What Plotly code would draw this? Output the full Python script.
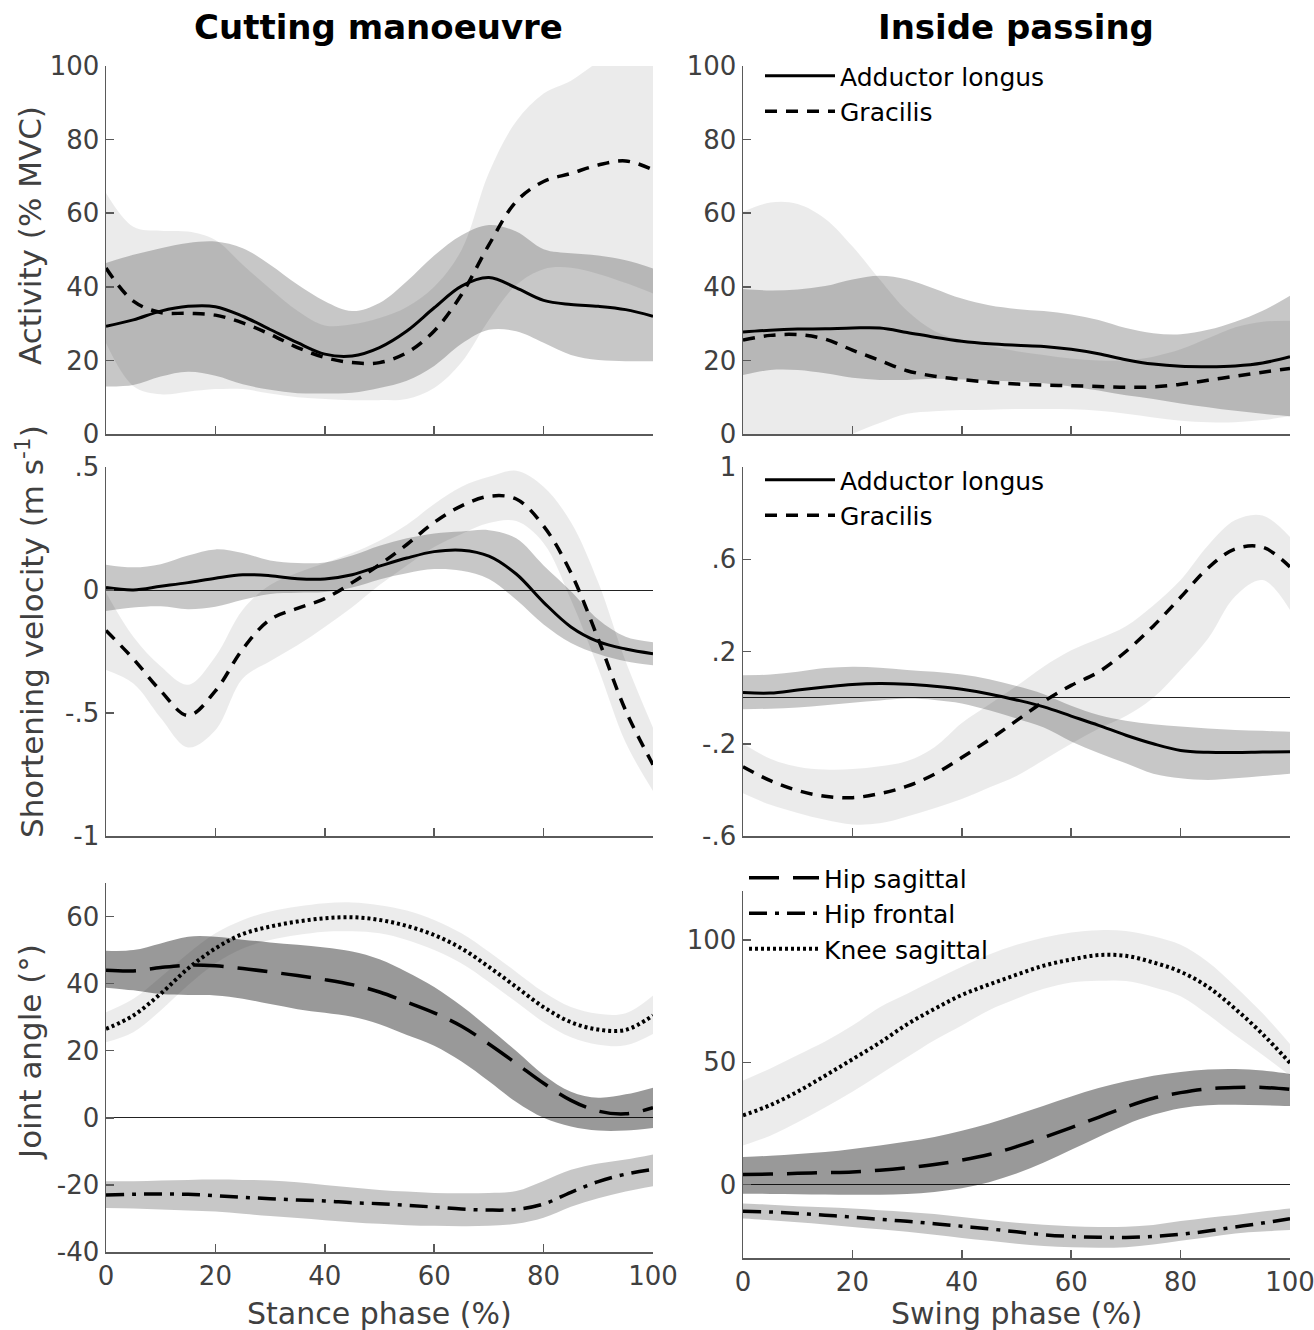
import plotly.graph_objects as go

# ---------------- data ----------------
phase = [0, 5, 10, 15, 20, 25, 30, 35, 40, 45, 50, 55, 60, 65, 70, 75, 80, 85, 90, 95, 100]

# Row 1 – activity (% MVC), cutting manoeuvre
cut_act_al_mean = [29.3, 31.0, 33.4, 34.7, 34.6, 32.0, 28.4, 24.8, 21.7, 21.2, 23.5, 28.0, 34.3, 40.2, 42.5, 39.7, 36.3, 35.2, 34.7, 33.8, 32.0]
cut_act_al_up   = [46.5, 48.7, 50.5, 51.9, 52.3, 50.5, 46.0, 40.6, 36.1, 33.4, 35.6, 41.5, 48.5, 54.0, 56.8, 55.0, 50.2, 49.1, 48.5, 47.2, 45.0]
cut_act_al_lo   = [12.9, 13.3, 15.6, 16.9, 15.8, 13.5, 12.0, 11.1, 11.0, 11.2, 12.5, 14.5, 18.5, 24.5, 28.3, 27.9, 24.8, 21.5, 20.1, 19.8, 19.8]
cut_act_gr_mean = [45.1, 36.1, 33.0, 32.8, 32.3, 30.2, 27.1, 23.5, 20.8, 19.4, 19.4, 22.1, 28.0, 37.9, 51.4, 63.2, 68.6, 70.8, 73.1, 74.2, 71.8]
cut_act_gr_up   = [65.5, 56.3, 55.2, 55.0, 52.7, 46.0, 39.5, 33.5, 29.5, 29.8, 31.5, 34.5, 40.0, 50.0, 71.0, 85.0, 92.5, 96.0, 101.0, 104.0, 105.0]
cut_act_gr_lo   = [24.7, 13.0, 10.8, 11.5, 12.2, 12.2, 11.0, 10.0, 9.5, 9.2, 9.2, 9.5, 12.5, 19.5, 31.0, 40.5, 44.8, 45.2, 43.5, 41.0, 38.2]

# Row 1 – activity (% MVC), inside passing
pas_act_al_mean = [27.7, 28.2, 28.5, 28.6, 28.8, 28.8, 27.6, 26.3, 25.2, 24.5, 24.1, 23.8, 23.0, 21.8, 20.2, 19.0, 18.4, 18.3, 18.5, 19.3, 21.0]
pas_act_al_up   = [39.4, 39.0, 39.3, 40.2, 42.0, 43.0, 42.0, 39.5, 36.8, 35.0, 34.0, 33.4, 32.5, 31.0, 28.8, 27.4, 27.1, 28.3, 30.5, 33.5, 37.6]
pas_act_al_lo   = [16.0, 17.4, 17.4, 16.5, 15.3, 14.7, 14.7, 15.0, 14.8, 14.5, 14.3, 13.8, 12.9, 11.8, 10.5, 9.5, 8.3, 7.3, 6.3, 5.5, 4.8]
pas_act_gr_mean = [25.5, 26.8, 27.0, 25.8, 22.8, 20.0, 17.2, 15.7, 14.8, 14.1, 13.6, 13.3, 13.1, 12.9, 12.7, 12.8, 13.5, 14.6, 15.7, 16.8, 17.8]
pas_act_gr_up   = [60.4, 62.9, 62.5, 58.5, 51.0, 42.0, 33.5, 28.0, 25.5, 24.0, 22.5, 21.5, 20.5, 20.0, 20.0, 21.0, 23.0, 26.0, 29.0, 30.5, 30.8]
pas_act_gr_lo   = [-9.5, -9.0, -7.0, -4.0, 0.0, 3.0, 5.5, 6.2, 6.5, 6.6, 6.8, 6.8, 6.7, 6.3, 5.5, 4.5, 3.6, 3.2, 3.2, 3.8, 4.8]

# Row 2 – shortening velocity (m/s), cutting manoeuvre
cut_vel_al_mean = [0.01, 0.0, 0.015, 0.03, 0.048, 0.062, 0.058, 0.046, 0.045, 0.062, 0.097, 0.13, 0.156, 0.162, 0.138, 0.065, -0.05, -0.15, -0.21, -0.24, -0.259]
cut_vel_al_up   = [0.103, 0.092, 0.105, 0.14, 0.165, 0.15, 0.12, 0.11, 0.112, 0.14, 0.18, 0.21, 0.23, 0.238, 0.243, 0.21, 0.1, -0.005, -0.12, -0.19, -0.212]
cut_vel_al_lo   = [-0.085, -0.071, -0.066, -0.078, -0.068, -0.04, -0.016, -0.011, -0.008, 0.01, 0.043, 0.068, 0.085, 0.078, 0.045, -0.04, -0.14, -0.215, -0.26, -0.29, -0.306]
cut_vel_gr_mean = [-0.165, -0.28, -0.41, -0.51, -0.41, -0.24, -0.12, -0.075, -0.035, 0.03, 0.103, 0.185, 0.275, 0.342, 0.381, 0.37, 0.26, 0.07, -0.2, -0.49, -0.71]
cut_vel_gr_up   = [-0.01, -0.19, -0.31, -0.385, -0.27, -0.08, 0.02, 0.07, 0.11, 0.15, 0.2, 0.265, 0.35, 0.42, 0.46, 0.485, 0.42, 0.275, 0.03, -0.29, -0.56]
cut_vel_gr_lo   = [-0.325, -0.38, -0.52, -0.64, -0.57, -0.36, -0.29, -0.225, -0.15, -0.07, 0.02, 0.1, 0.175, 0.228, 0.272, 0.28, 0.19, -0.04, -0.32, -0.62, -0.817]

# Row 2 – shortening velocity (m/s), inside passing
pas_vel_al_mean = [0.022, 0.02, 0.033, 0.046, 0.057, 0.061, 0.058, 0.049, 0.036, 0.016, -0.01, -0.04, -0.08, -0.12, -0.163, -0.2, -0.229, -0.237, -0.238, -0.236, -0.235]
pas_vel_al_up   = [0.097, 0.1, 0.112, 0.128, 0.134, 0.13, 0.12, 0.112, 0.1, 0.08, 0.05, 0.015, -0.035, -0.075, -0.1, -0.115, -0.125, -0.134, -0.14, -0.144, -0.148]
pas_vel_al_lo   = [-0.05, -0.048, -0.043, -0.033, -0.022, -0.012, -0.004, -0.01, -0.025, -0.055, -0.09, -0.13, -0.19, -0.24, -0.285, -0.33, -0.35, -0.357, -0.35, -0.34, -0.33]
pas_vel_gr_mean = [-0.3, -0.36, -0.403, -0.428, -0.434, -0.416, -0.384, -0.332, -0.26, -0.183, -0.1, -0.017, 0.053, 0.111, 0.2, 0.31, 0.435, 0.562, 0.645, 0.652, 0.567]
pas_vel_gr_up   = [-0.199, -0.265, -0.3, -0.312, -0.31, -0.298, -0.275, -0.215, -0.11, -0.03, 0.05, 0.135, 0.205, 0.255, 0.31, 0.4, 0.51, 0.66, 0.77, 0.79, 0.697]
pas_vel_gr_lo   = [-0.415, -0.465, -0.5, -0.53, -0.55, -0.545, -0.515, -0.48, -0.44, -0.39, -0.34, -0.27, -0.2, -0.135, -0.08, 0.0, 0.12, 0.255, 0.44, 0.51, 0.38]

# Row 3 – joint angles (deg), cutting manoeuvre
cut_hs_mean = [44.0, 43.8, 44.8, 45.5, 45.3, 44.5, 43.5, 42.4, 41.2, 39.7, 37.5, 34.5, 31.3, 27.3, 22.0, 16.2, 10.3, 5.2, 2.0, 1.2, 3.0]
cut_hs_up   = [49.8, 50.0, 52.0, 54.0, 54.0, 53.1, 52.3, 51.6, 50.8, 49.6, 47.3, 43.5, 39.0, 33.3, 26.8, 19.9, 12.8, 7.8, 6.0, 7.0, 9.0]
cut_hs_lo   = [38.8, 38.0, 36.9, 36.6, 36.5, 35.5, 33.9, 32.4, 31.3, 30.1, 27.9, 24.7, 21.5, 16.8, 10.9, 4.7, 0.0, -2.6, -3.8, -3.8, -3.0]
cut_hf_mean = [-23.0, -22.8, -22.7, -22.8, -23.2, -23.7, -24.1, -24.5, -24.8, -25.3, -25.6, -26.1, -26.6, -27.2, -27.5, -27.3, -25.7, -22.2, -19.0, -16.8, -15.4]
cut_hf_up   = [-18.9, -18.9, -18.7, -18.5, -18.4, -18.5, -18.7, -19.2, -20.0, -20.8, -21.5, -22.0, -22.4, -22.5, -22.4, -21.8, -18.8, -15.5, -13.6, -12.4, -10.9]
cut_hf_lo   = [-26.9, -27.0, -27.3, -27.6, -27.9, -28.6, -29.3, -29.9, -30.5, -31.1, -31.6, -32.0, -32.2, -32.3, -32.2, -31.6, -29.8, -26.5, -24.0, -22.0, -20.4]
cut_ks_mean = [26.5, 30.5, 37.0, 44.5, 50.5, 54.8, 57.0, 58.5, 59.5, 59.8, 59.0, 57.2, 54.5, 50.5, 45.0, 39.0, 33.0, 28.5, 26.3, 26.2, 30.5]
cut_ks_up   = [31.5, 35.5, 42.0, 49.0, 55.0, 59.0, 61.5, 63.0, 64.0, 64.2, 63.4, 61.8, 59.0, 55.0, 49.5, 43.5, 37.5, 33.0, 31.0, 31.2, 36.5]
cut_ks_lo   = [22.5, 25.5, 32.0, 39.5, 46.0, 50.5, 53.0, 54.5, 55.5, 55.6, 55.0, 53.0, 50.0, 46.0, 40.5, 34.5, 28.5, 24.0, 21.8, 21.6, 25.0]

# Row 3 – joint angles (deg), inside passing
pas_hs_mean = [4.1, 4.3, 4.6, 4.9, 5.2, 5.9, 6.9, 8.2, 10.0, 12.3, 15.5, 19.3, 23.3, 27.5, 31.7, 35.3, 37.6, 39.2, 39.7, 39.7, 38.9]
pas_hs_up   = [11.3, 11.8, 12.5, 13.3, 14.6, 16.0, 17.6, 19.5, 22.0, 25.0, 28.5, 32.2, 36.0, 39.5, 42.2, 44.5, 46.0, 47.0, 47.2, 46.6, 45.2]
pas_hs_lo   = [-3.7, -3.8, -3.9, -4.0, -4.1, -4.1, -3.8, -3.0, -1.5, 1.0, 4.5, 9.0, 14.2, 19.5, 24.5, 28.5, 31.2, 32.4, 32.6, 32.4, 32.1]
pas_hf_mean = [-10.9, -11.2, -11.8, -12.5, -13.3, -14.2, -15.0, -16.0, -17.0, -18.1, -19.3, -20.5, -21.2, -21.5, -21.6, -21.2, -20.3, -19.0, -17.3, -15.7, -13.9]
pas_hf_up   = [-7.7, -8.2, -8.8, -9.3, -9.8, -10.5, -11.2, -12.0, -13.2, -14.5, -15.6, -16.4, -17.0, -17.3, -17.2, -16.5, -14.9, -13.5, -12.4, -11.0, -9.8]
pas_hf_lo   = [-13.9, -14.6, -15.4, -16.3, -17.3, -18.3, -19.3, -20.5, -21.8, -23.0, -24.2, -25.1, -25.6, -25.8, -25.6, -24.5, -23.0, -21.5, -20.0, -19.2, -18.6]
pas_ks_mean = [28.3, 32.5, 38.0, 44.5, 51.2, 58.0, 65.5, 71.8, 77.5, 81.8, 85.8, 89.5, 92.0, 93.8, 93.5, 90.8, 87.0, 80.8, 71.8, 61.5, 49.7]
pas_ks_up   = [42.5, 47.5, 53.0, 58.5, 65.0, 72.5, 78.0, 83.6, 89.0, 94.0, 98.0, 101.0, 103.0, 104.0, 103.7, 101.5, 98.0, 91.0, 81.0, 70.0, 57.5]
pas_ks_lo   = [16.0, 20.0, 25.5, 31.5, 38.0, 45.0, 52.0, 59.0, 65.0, 71.3, 76.0, 80.0, 82.6, 83.3, 83.2, 80.7, 77.0, 69.5, 61.0, 53.0, 44.6]

x_ticks = [0, 20, 40, 60, 80, 100]
x_labels = ["0", "20", "40", "60", "80", "100"]
act_ticks = [0, 20, 40, 60, 80, 100]
act_labels = ["0", "20", "40", "60", "80", "100"]
cut_vel_ticks = [-1, -0.5, 0, 0.5]
cut_vel_labels = ["-1", "-.5", "0", ".5"]
pas_vel_ticks = [-0.6, -0.2, 0.2, 0.6, 1]
pas_vel_labels = ["-.6", "-.2", ".2", ".6", "1"]
cut_ang_ticks = [-40, -20, 0, 20, 40, 60]
cut_ang_labels = ["-40", "-20", "0", "20", "40", "60"]
pas_ang_ticks = [0, 50, 100]
pas_ang_labels = ["0", "50", "100"]

# ---------------- styling ----------------
W, H = 1314, 1330
FONT = "DejaVu Sans"
GRAY_TXT = "#404040"
AX_COL = "#5a5a5a"
C_AL = "rgba(0,0,0,0.22)"
C_GR = "rgba(0,0,0,0.08)"
C_HS = "rgba(0,0,0,0.40)"
C_HF = "rgba(0,0,0,0.22)"
C_KS = "rgba(0,0,0,0.075)"

fig = go.Figure()


def band(lo, up, color, xa, ya):
    fig.add_trace(go.Scatter(x=phase, y=lo, mode="lines", line=dict(width=0, shape="spline"),
                             xaxis=xa, yaxis=ya, showlegend=False, hoverinfo="skip"))
    fig.add_trace(go.Scatter(x=phase, y=up, mode="lines", line=dict(width=0, shape="spline"),
                             fill="tonexty", fillcolor=color,
                             xaxis=xa, yaxis=ya, showlegend=False, hoverinfo="skip"))


def curve(y, xa, ya, dash, width, name=None, legend=None):
    fig.add_trace(go.Scatter(x=phase, y=y, mode="lines", name=name,
                             line=dict(color="black", width=width, dash=dash, shape="spline"),
                             xaxis=xa, yaxis=ya, showlegend=legend is not None,
                             legend=legend if legend else "legend", hoverinfo="skip"))


GR_DASH = "12px,9px"
HS_DASH = "30px,14px"
HF_DASH = "18px,8px,4px,8px"
KS_DASH = "3px,3px"

# Row 1
band(cut_act_gr_lo, cut_act_gr_up, C_GR, "x", "y")
band(cut_act_al_lo, cut_act_al_up, C_AL, "x", "y")
curve(cut_act_al_mean, "x", "y", "solid", 3)
curve(cut_act_gr_mean, "x", "y", GR_DASH, 3.5)

band(pas_act_gr_lo, pas_act_gr_up, C_GR, "x2", "y2")
band(pas_act_al_lo, pas_act_al_up, C_AL, "x2", "y2")
curve(pas_act_al_mean, "x2", "y2", "solid", 3, "Adductor longus", "legend")
curve(pas_act_gr_mean, "x2", "y2", GR_DASH, 3.5, "Gracilis", "legend")

# Row 2
band(cut_vel_gr_lo, cut_vel_gr_up, C_GR, "x3", "y3")
band(cut_vel_al_lo, cut_vel_al_up, C_AL, "x3", "y3")
curve(cut_vel_al_mean, "x3", "y3", "solid", 3)
curve(cut_vel_gr_mean, "x3", "y3", GR_DASH, 3.5)

band(pas_vel_gr_lo, pas_vel_gr_up, C_GR, "x4", "y4")
band(pas_vel_al_lo, pas_vel_al_up, C_AL, "x4", "y4")
curve(pas_vel_al_mean, "x4", "y4", "solid", 3, "Adductor longus", "legend2")
curve(pas_vel_gr_mean, "x4", "y4", GR_DASH, 3.5, "Gracilis", "legend2")

# Row 3
band(cut_ks_lo, cut_ks_up, C_KS, "x5", "y5")
band(cut_hs_lo, cut_hs_up, C_HS, "x5", "y5")
band(cut_hf_lo, cut_hf_up, C_HF, "x5", "y5")
curve(cut_hs_mean, "x5", "y5", HS_DASH, 3.5)
curve(cut_hf_mean, "x5", "y5", HF_DASH, 3.5)
curve(cut_ks_mean, "x5", "y5", KS_DASH, 4)

band(pas_ks_lo, pas_ks_up, C_KS, "x6", "y6")
band(pas_hs_lo, pas_hs_up, C_HS, "x6", "y6")
band(pas_hf_lo, pas_hf_up, C_HF, "x6", "y6")
curve(pas_hs_mean, "x6", "y6", HS_DASH, 3.5, "Hip sagittal", "legend3")
curve(pas_hf_mean, "x6", "y6", HF_DASH, 3.5, "Hip frontal", "legend3")
curve(pas_ks_mean, "x6", "y6", KS_DASH, 4, "Knee sagittal", "legend3")


def px_x(p):
    return p / W


def px_y(p):
    return 1 - p / H


base_axis = dict(showline=True, linecolor=AX_COL, linewidth=1.5, ticks="inside", ticklen=8,
                 tickwidth=1.5, tickcolor=AX_COL, showgrid=False, mirror=False, automargin=False,
                 ticklabeloverflow="allow",
                 tickfont=dict(family=FONT, size=26, color=GRAY_TXT))

XL = [px_x(106), px_x(653)]
XR = [px_x(743), px_x(1290)]
rows_y = {
    1: [px_y(434), px_y(66)], 2: [px_y(434), px_y(66)],
    3: [px_y(836), px_y(467)], 4: [px_y(836), px_y(467)],
    5: [px_y(1252), px_y(883)], 6: [px_y(1258), px_y(891)],
}
yspec = {
    1: dict(range=[0, 100], tickvals=act_ticks, ticktext=act_labels, zeroline=False),
    2: dict(range=[0, 100], tickvals=act_ticks, ticktext=act_labels, zeroline=False),
    3: dict(range=[-1, 0.5], tickvals=cut_vel_ticks, ticktext=cut_vel_labels),
    4: dict(range=[-0.6, 1], tickvals=pas_vel_ticks, ticktext=pas_vel_labels),
    5: dict(range=[-40, 70], tickvals=cut_ang_ticks, ticktext=cut_ang_labels),
    6: dict(range=[-30, 120], tickvals=pas_ang_ticks, ticktext=pas_ang_labels),
}

layout = dict(width=W, height=H, margin=dict(l=0, r=0, t=0, b=0, pad=0, autoexpand=False),
              plot_bgcolor="white", paper_bgcolor="white",
              font=dict(family=FONT, color=GRAY_TXT))
for i in range(1, 7):
    sfx = "" if i == 1 else str(i)
    xa = dict(base_axis, domain=XL if i % 2 == 1 else XR, range=[0, 100], tickvals=x_ticks,
              ticktext=x_labels, zeroline=False, anchor="y" + sfx, showticklabels=i >= 5)
    ya = dict(base_axis, domain=rows_y[i], anchor="x" + sfx, **yspec[i])
    if i >= 3:
        ya.update(zeroline=True, zerolinecolor="#222222", zerolinewidth=1)
    layout["xaxis" + sfx] = xa
    layout["yaxis" + sfx] = ya

leg = dict(bgcolor="rgba(0,0,0,0)", font=dict(family=FONT, size=25, color="black"),
           xanchor="left", yanchor="top", itemwidth=70, tracegroupgap=0, traceorder="normal")
layout["legend"] = dict(leg, x=px_x(760), y=px_y(53))
layout["legend2"] = dict(leg, x=px_x(760), y=px_y(457))
layout["legend3"] = dict(leg, x=px_x(744), y=px_y(855))

ann = []
ann.append(dict(text="<b>Cutting manoeuvre</b>", x=px_x(378), y=px_y(27), xref="paper", yref="paper",
                showarrow=False, font=dict(family=FONT, size=34, color="black"), xanchor="center", yanchor="middle"))
ann.append(dict(text="<b>Inside passing</b>", x=px_x(1016), y=px_y(27), xref="paper", yref="paper",
                showarrow=False, font=dict(family=FONT, size=34, color="black"), xanchor="center", yanchor="middle"))
ann.append(dict(text="Stance phase (%)", x=px_x(379), y=px_y(1313), xref="paper", yref="paper",
                showarrow=False, font=dict(family=FONT, size=30, color=GRAY_TXT), xanchor="center", yanchor="middle"))
ann.append(dict(text="Swing phase (%)", x=px_x(1016), y=px_y(1313), xref="paper", yref="paper",
                showarrow=False, font=dict(family=FONT, size=30, color=GRAY_TXT), xanchor="center", yanchor="middle"))
for txt, yc in [("Activity (% MVC)", 236), ("Shortening velocity (m s<sup>-1</sup>)", 632), ("Joint angle (°)", 1052)]:
    ann.append(dict(text=txt, x=px_x(30), y=px_y(yc), xref="paper", yref="paper", textangle=-90,
                    showarrow=False, font=dict(family=FONT, size=31, color=GRAY_TXT),
                    xanchor="center", yanchor="middle"))
layout["annotations"] = ann

fig.update_layout(**layout)
fig.write_html("out.html",
               config={"displayModeBar": False, "staticPlot": True},
               post_script="document.body.style.margin='0px';document.body.style.padding='0px';"
                           "document.body.style.overflow='hidden';")
